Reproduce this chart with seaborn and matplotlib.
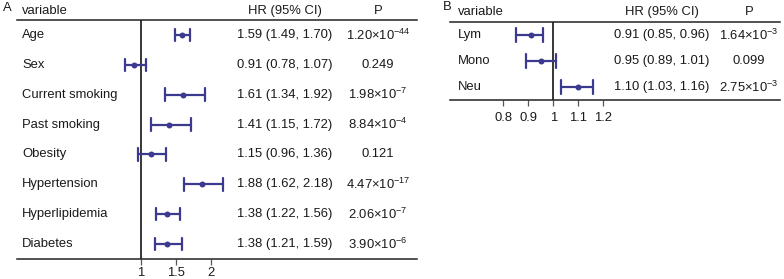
import numpy as np
import pandas as pd
import matplotlib
matplotlib.use("Agg")
import matplotlib.pyplot as plt
import matplotlib.transforms as mtransforms
import seaborn as sns

# ---------------- data ----------------
vars_a = ["Age", "Sex", "Current smoking", "Past smoking", "Obesity",
          "Hypertension", "Hyperlipidemia", "Diabetes"]
hr_a = [1.59, 0.91, 1.61, 1.41, 1.15, 1.88, 1.38, 1.38]
lo_a = [1.49, 0.78, 1.34, 1.15, 0.96, 1.62, 1.22, 1.21]
hi_a = [1.70, 1.07, 1.92, 1.72, 1.36, 2.18, 1.56, 1.59]
p_a = [r"1.20$\times$10$^{-44}$", "0.249", r"1.98$\times$10$^{-7}$",
       r"8.84$\times$10$^{-4}$", "0.121", r"4.47$\times$10$^{-17}$",
       r"2.06$\times$10$^{-7}$", r"3.90$\times$10$^{-6}$"]
ticks_a = [1, 1.5, 2]
ticklabels_a = ["1", "1.5", "2"]

vars_b = ["Lym", "Mono", "Neu"]
hr_b = [0.91, 0.95, 1.10]
lo_b = [0.85, 0.89, 1.03]
hi_b = [0.96, 1.01, 1.16]
p_b = [r"1.64$\times$10$^{-3}$", "0.099", r"2.75$\times$10$^{-3}$"]
ticks_b = [0.8, 0.9, 1, 1.1, 1.2]
ticklabels_b = ["0.8", "0.9", "1", "1.1", "1.2"]

# ---------------- style ----------------
sns.set_style("white")
plt.rcParams["font.family"] = ["Liberation Sans", "DejaVu Sans"]
plt.rcParams["mathtext.fontset"] = "custom"
plt.rcParams["mathtext.rm"] = "Liberation Sans"
plt.rcParams["mathtext.it"] = "Liberation Sans:italic"
plt.rcParams["mathtext.bf"] = "Liberation Sans:bold"
plt.rcParams["mathtext.sf"] = "Liberation Sans"

W, H = 784, 279
fig = plt.figure(figsize=(W / 100, H / 100), dpi=100)

COL = "#3c3a8e"
TXT = "#1a1a1a"
FS = 9.4


def fx(px):
    return px / W


def fy(py):
    return 1 - py / H


def forest(ax_rect, variables, hr, lo, hi, pvals, ticks, ticklabels,
           xlim, capsize, label_px, hr_px, p_px, header_py, panel, panel_xy,
           tickpad):
    left, top, right, bottom = ax_rect
    ax = fig.add_axes([fx(left), fy(bottom), fx(right - left), (bottom - top) / H])
    rows = []
    for v, a, b, c in zip(variables, lo, hr, hi):
        for val in (a, b, c):
            rows.append({"variable": v, "value": val})
    df = pd.DataFrame(rows)
    sns.pointplot(data=df, x="value", y="variable", order=variables,
                  estimator="median", errorbar=lambda s: (s.min(), s.max()),
                  color=COL, linestyle="none", markersize=4.3,
                  markeredgewidth=0,
                  capsize=capsize, err_kws={"linewidth": 1.6}, ax=ax)
    n = len(variables)
    ax.set_ylim(n - 0.5, -0.5)
    ax.set_xlim(*xlim)
    ax.axvline(1, color="black", lw=1.1, zorder=0)
    for s in ("left", "right"):
        ax.spines[s].set_visible(False)
    for s in ("top", "bottom"):
        ax.spines[s].set_visible(True)
        ax.spines[s].set_color("#222222")
        ax.spines[s].set_linewidth(1.1)
    ax.set_yticks([])
    ax.set_xticks(ticks)
    ax.set_xticklabels(ticklabels, fontsize=FS, color=TXT)
    ax.tick_params(axis="x", bottom=True, direction="out", length=4,
                   width=0.9, color="#555555", pad=tickpad)
    ax.set_xlabel("")
    ax.set_ylabel("")

    tr = mtransforms.blended_transform_factory(fig.transFigure, ax.transData)
    for i, v in enumerate(variables):
        ax.text(fx(label_px), i, v, transform=tr, ha="left", va="center",
                fontsize=FS, color=TXT)
        ax.text(fx(hr_px), i, f"{hr[i]:.2f} ({lo[i]:.2f}, {hi[i]:.2f})",
                transform=tr, ha="center", va="center", fontsize=FS, color=TXT)
        ax.text(fx(p_px), i, pvals[i], transform=tr, ha="center", va="center",
                fontsize=FS, color=TXT)
    fig.text(fx(label_px), fy(header_py), "variable", ha="left", va="center",
             fontsize=FS, color=TXT)
    fig.text(fx(hr_px), fy(header_py), "HR (95% CI)", ha="center", va="center",
             fontsize=FS, color=TXT)
    fig.text(fx(p_px), fy(header_py), "P", ha="center", va="center",
             fontsize=FS, color=TXT)
    fig.text(fx(panel_xy[0]), fy(panel_xy[1]), panel, ha="left", va="center",
             fontsize=FS, color=TXT)
    return ax


# Panel A: 1 -> 140.7 px, 70 px per unit; axes from x=17 to 417
forest((17, 20, 417, 259), vars_a, hr_a, lo_a, hi_a, p_a, ticks_a, ticklabels_a,
       xlim=(1 - 123.7 / 70, 1 + 276.3 / 70), capsize=0.42,
       label_px=22, hr_px=285, p_px=378, header_py=11, panel="A",
       panel_xy=(3, 8), tickpad=1.5)

# Panel B: 1 -> 553.3 px, 250 px per unit; axes from x=450 to 780
forest((450, 22, 780, 100), vars_b, hr_b, lo_b, hi_b, p_b, ticks_b, ticklabels_b,
       xlim=(1 - 103.3 / 250, 1 + 226.7 / 250), capsize=0.52,
       label_px=458, hr_px=662, p_px=749, header_py=12, panel="B",
       panel_xy=(443, 7), tickpad=4.5)

fig.savefig("out.png", dpi=100)
